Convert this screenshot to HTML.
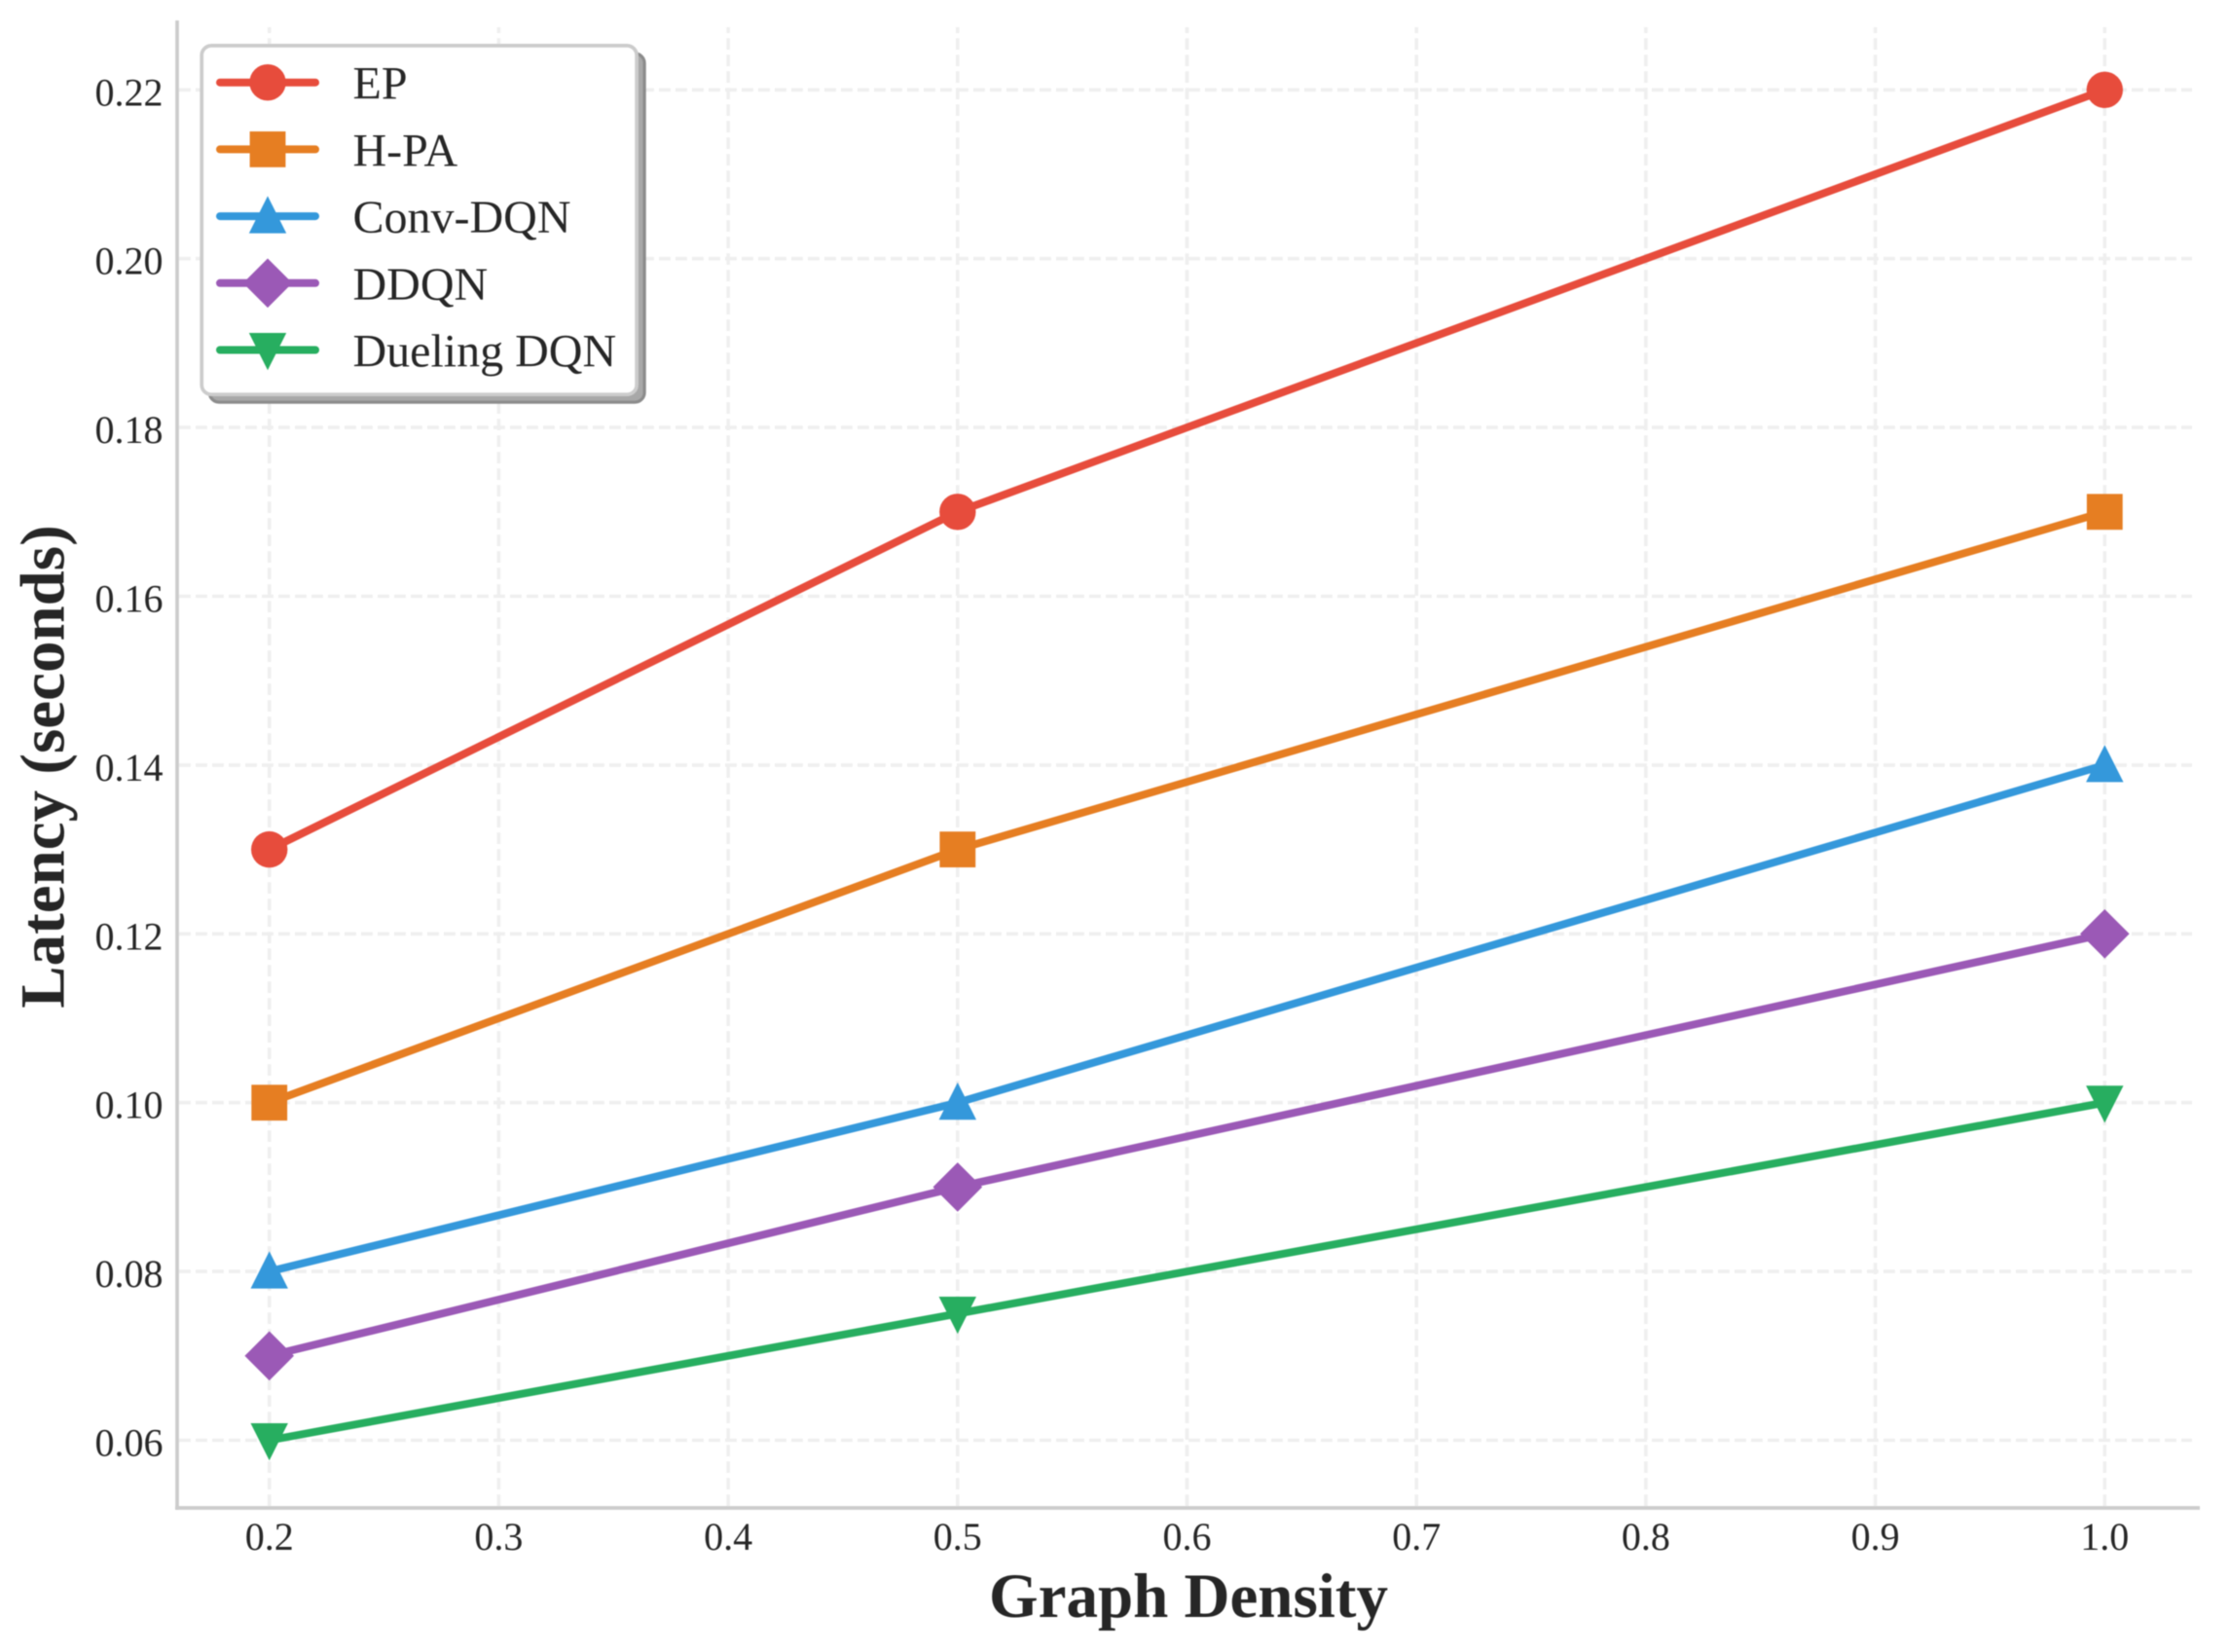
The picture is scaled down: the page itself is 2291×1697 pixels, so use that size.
<!DOCTYPE html>
<html lang="en">
<head>
<meta charset="utf-8">
<title>Latency vs Graph Density</title>
<style>
html,body{margin:0;padding:0;background:#fff;}
svg{display:block;filter:blur(0.6px);}
text{font-family:"Liberation Serif",serif;fill:#262626;}
</style>
</head>
<body>
<svg id="chart" xmlns="http://www.w3.org/2000/svg" width="2291" height="1697" viewBox="0 0 2291 1697">
<rect x="0" y="0" width="2291" height="1697" fill="#ffffff"/>
</svg>
<script>
const densities = [0.2, 0.5, 1.0];
const xTicks = [0.2, 0.3, 0.4, 0.5, 0.6, 0.7, 0.8, 0.9, 1.0];
const yTicks = [0.06, 0.08, 0.10, 0.12, 0.14, 0.16, 0.18, 0.20, 0.22];
const seriesNames = ["EP", "H-PA", "Conv-DQN", "DDQN", "Dueling DQN"];
const epValues = [0.13, 0.17, 0.22];
const hpaValues = [0.10, 0.13, 0.17];
const convDqnValues = [0.08, 0.10, 0.14];
const ddqnValues = [0.07, 0.09, 0.12];
const duelingDqnValues = [0.06, 0.075, 0.10];

const NS = "http://www.w3.org/2000/svg";
const svg = document.getElementById("chart");
const seriesValues = [epValues, hpaValues, convDqnValues, ddqnValues, duelingDqnValues];
const seriesColors = ["#e74c3c", "#e67e22", "#3498db", "#9b59b6", "#27ae60"];
const seriesMarkers = ["circle", "square", "triangle", "diamond", "triangle-down"];

function xScale(v) { return 276.7 + (v - 0.2) * 2357; }
function yScale(v) { return 1479.5 - (v - 0.06) * 8670; }
function slug(s) { return s.toLowerCase().replace(/[^a-z0-9]+/g, "-"); }

function make(tag, attrs, parent) {
  const el = document.createElementNS(NS, tag);
  for (const k in attrs) el.setAttribute(k, attrs[k]);
  parent.appendChild(el);
  return el;
}

function drawMarker(kind, cx, cy, color, parent) {
  let el;
  if (kind === "circle") {
    el = make("circle", { cx: cx, cy: cy, r: 18.7, fill: color }, parent);
  } else if (kind === "square") {
    el = make("rect", { x: cx - 18.4, y: cy - 18.4, width: 36.8, height: 36.8, fill: color }, parent);
  } else if (kind === "triangle") {
    el = make("polygon", { points: `${cx},${cy - 20.7} ${cx - 19.2},${cy + 17.5} ${cx + 19.2},${cy + 17.5}`, fill: color }, parent);
  } else if (kind === "triangle-down") {
    el = make("polygon", { points: `${cx},${cy + 20.7} ${cx - 19.2},${cy - 17.5} ${cx + 19.2},${cy - 17.5}`, fill: color }, parent);
  } else {
    el = make("polygon", { points: `${cx},${cy - 25.3} ${cx + 25.3},${cy} ${cx},${cy + 25.3} ${cx - 25.3},${cy}`, fill: color }, parent);
  }
  return el;
}

const gridGroup = make("g", {}, svg);



xTicks.forEach(function (t) {
  const line = make("line", { x1: xScale(t), x2: xScale(t), y1: 1547, y2: 28, stroke: "#efefef", "stroke-width": 3.6, "stroke-dasharray": "11.8 5.2" }, gridGroup);
  
  
});
yTicks.forEach(function (t) {
  const line = make("line", { x1: 184, x2: 2252, y1: yScale(t), y2: yScale(t), stroke: "#efefef", "stroke-width": 3.6, "stroke-dasharray": "11.8 5.2" }, gridGroup);
  
  
});

const leftSpine = make("line", { x1: 182, x2: 182, y1: 21, y2: 1551, stroke: "#cccccc", "stroke-width": 3.7 }, svg);


const bottomSpine = make("line", { x1: 180, x2: 2260, y1: 1549, y2: 1549, stroke: "#cccccc", "stroke-width": 3.7 }, svg);



xTicks.forEach(function (t) {
  const label = make("text", { x: xScale(t), y: 1592, "text-anchor": "middle", "font-size": 40 }, svg);
  
  
  label.textContent = t.toFixed(1);
});
yTicks.forEach(function (t) {
  const label = make("text", { x: 167.5, y: yScale(t) + 16, "text-anchor": "end", "font-size": 40 }, svg);
  
  
  label.textContent = t.toFixed(2);
});

const xTitle = make("text", { x: 1221, y: 1661, "text-anchor": "middle", "font-size": 65, "font-weight": "bold" }, svg);


xTitle.textContent = "Graph Density";

const yTitle = make("text", { x: 0, y: 0, "text-anchor": "middle", "font-size": 65, "font-weight": "bold", transform: "translate(65.7 787.5) rotate(-90)" }, svg);


yTitle.textContent = "Latency (seconds)";

seriesNames.forEach(function (name, i) {
  const group = make("g", {}, svg);
  
  
  const pts = seriesValues[i].map(function (v, j) { return xScale(densities[j]) + "," + yScale(v); }).join(" ");
  const line = make("polyline", { points: pts, fill: "none", stroke: seriesColors[i], "stroke-width": 8, "stroke-linejoin": "round", "stroke-linecap": "round" }, group);
  
  
  seriesValues[i].forEach(function (v, j) {
    const m = drawMarker(seriesMarkers[i], xScale(densities[j]), yScale(v), seriesColors[i], group);
    
    
  });
});

const legend = make("g", {}, svg);


const legendShadow = make("rect", { x: 215.2, y: 54.9, width: 446.9, height: 358.3, rx: 10, ry: 10, fill: "#a8a8a8", stroke: "#8c8c8c", "stroke-width": 3.2 }, legend);


const legendBox = make("rect", { x: 207.2, y: 46.9, width: 446.9, height: 358.3, rx: 10, ry: 10, fill: "#ffffff", stroke: "#cccccc", "stroke-width": 3.7 }, legend);



const legendRowTop = 84.7;
const legendRowStep = 68.7;
seriesNames.forEach(function (name, i) {
  const cy = legendRowTop + i * legendRowStep;
  const entry = make("g", {}, legend);
  
  
  const handle = make("line", { x1: 226, x2: 324, y1: cy, y2: cy, stroke: seriesColors[i], "stroke-width": 8, "stroke-linecap": "round" }, entry);
  
  
  const marker = drawMarker(seriesMarkers[i], 275, cy, seriesColors[i], entry);
  
  
  const label = make("text", { x: 362.5, y: cy + 17, "font-size": 48 }, entry);
  
  
  label.textContent = name;
});
</script>
</body>
</html>
